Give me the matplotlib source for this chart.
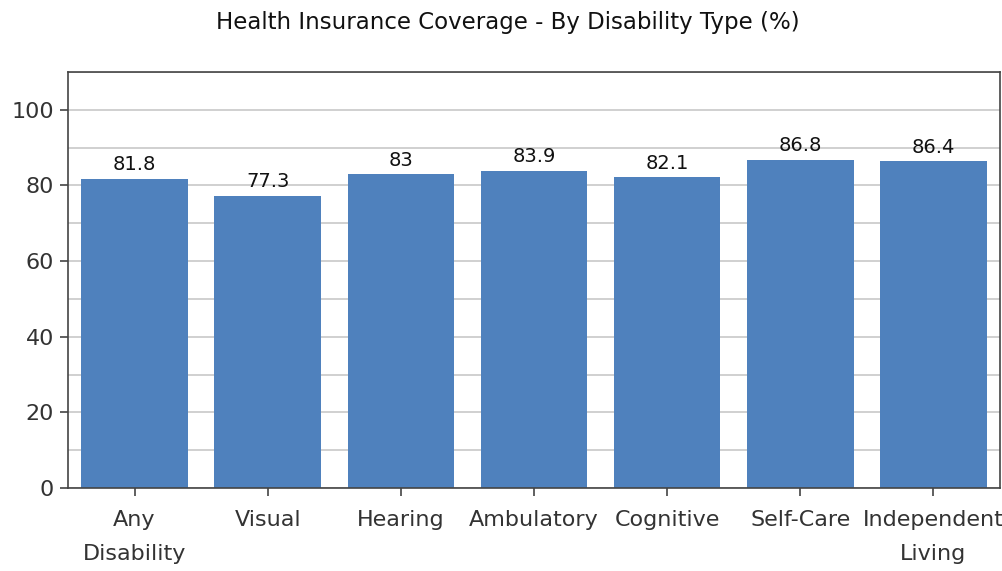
import matplotlib
matplotlib.use("Agg")
from matplotlib import pyplot as plt
from matplotlib.ticker import MultipleLocator

categories = ["Any\nDisability", "Visual", "Hearing", "Ambulatory", "Cognitive", "Self-Care", "Independent\nLiving"]
values = [81.8, 77.3, 83, 83.9, 82.1, 86.8, 86.4]
value_labels = ["81.8", "77.3", "83", "83.9", "82.1", "86.8", "86.4"]

plt.rcParams['font.family'] = ['DejaVu Sans']

fig = plt.figure(figsize=(10.03, 5.71), dpi=100)
ax = fig.add_axes([0.0678, 0.1454, 0.9292, 0.7286])

x = range(len(categories))
bars = ax.bar(x, values, width=0.8, color='#4F81BD', zorder=2)

for b, lab in zip(bars, value_labels):
    ax.text(b.get_x() + b.get_width() / 2, b.get_height() + 1.2, lab,
            ha='center', va='bottom', fontsize=14, color='#111111', zorder=3)

ax.set_xlim(-0.5, len(categories) - 0.5)
ax.set_ylim(0, 110)
ax.yaxis.set_major_locator(MultipleLocator(20))
ax.yaxis.set_minor_locator(MultipleLocator(10))
ax.grid(axis='y', which='both', color='#c8c8c8', linewidth=1.2, zorder=0)
ax.set_axisbelow(True)

ax.set_xticks(list(x))
ax.set_xticklabels(categories, fontsize=16, color='#333333', linespacing=1.85)
ax.tick_params(axis='y', labelsize=16, labelcolor='#333333', length=6, color='#444444', width=1.2, pad=4)
ax.tick_params(axis='y', which='minor', length=0)
ax.tick_params(axis='x', length=6, color='#444444', width=1.2, pad=10)

for s in ax.spines.values():
    s.set_color('#444444')
    s.set_linewidth(1.2)

fig.text(0.506, 0.961, "Health Insurance Coverage - By Disability Type (%)",
         ha='center', va='center', fontsize=16.5, color='#111111')

fig.savefig("out.png", dpi=100)
